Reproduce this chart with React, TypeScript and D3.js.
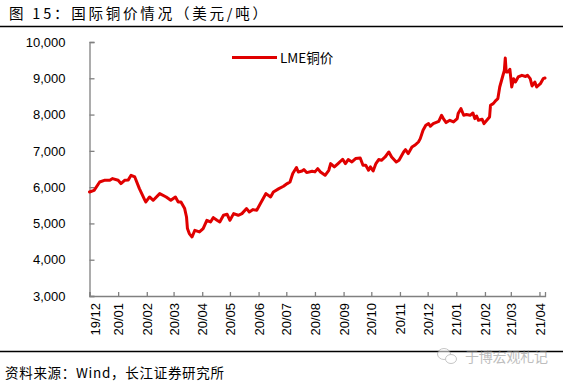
import React, { useEffect, useRef } from "react";
import * as d3 from "d3";

const title = "图 15：国际铜价情况（美元/吨）";
const source = "资料来源：Wind，长江证券研究所";
const watermark = "于博宏观札记";
const seriesName = "LME铜价";

const yTicks = [3000, 4000, 5000, 6000, 7000, 8000, 9000, 10000];
const xTickMonths = [
  "2019-12-01", "2020-01-01", "2020-02-01", "2020-03-01", "2020-04-01", "2020-05-01",
  "2020-06-01", "2020-07-01", "2020-08-01", "2020-09-01", "2020-10-01", "2020-11-01",
  "2020-12-01", "2021-01-01", "2021-02-01", "2021-03-01", "2021-04-01",
];
const xDomain = ["2019-12-01", "2021-04-07"];

const dates = [
  "2019-12-01", "2019-12-06", "2019-12-12", "2019-12-17", "2019-12-23", "2019-12-26",
  "2020-01-01", "2020-01-04", "2020-01-08", "2020-01-12", "2020-01-15", "2020-01-19",
  "2020-01-24", "2020-01-30", "2020-01-31", "2020-02-04", "2020-02-08", "2020-02-15",
  "2020-02-22", "2020-02-27", "2020-03-03", "2020-03-06", "2020-03-09", "2020-03-11",
  "2020-03-13", "2020-03-15", "2020-03-16", "2020-03-18", "2020-03-21", "2020-03-24",
  "2020-03-29", "2020-04-02", "2020-04-06", "2020-04-10", "2020-04-13", "2020-04-17",
  "2020-04-20", "2020-04-24", "2020-04-28", "2020-05-01", "2020-05-05", "2020-05-10",
  "2020-05-14", "2020-05-19", "2020-05-22", "2020-05-26", "2020-05-30", "2020-06-03",
  "2020-06-06", "2020-06-09", "2020-06-14", "2020-06-17", "2020-06-23", "2020-06-28",
  "2020-07-02", "2020-07-05", "2020-07-08", "2020-07-12", "2020-07-14", "2020-07-18",
  "2020-07-20", "2020-07-23", "2020-07-29", "2020-08-01", "2020-08-04", "2020-08-07",
  "2020-08-12", "2020-08-16", "2020-08-18", "2020-08-22", "2020-08-26", "2020-08-31",
  "2020-09-03", "2020-09-06", "2020-09-10", "2020-09-14", "2020-09-19", "2020-09-22",
  "2020-09-25", "2020-09-28", "2020-09-30", "2020-10-03", "2020-10-06", "2020-10-09",
  "2020-10-12", "2020-10-16", "2020-10-20", "2020-10-23", "2020-10-28", "2020-10-31",
  "2020-11-05", "2020-11-07", "2020-11-10", "2020-11-14", "2020-11-17", "2020-11-21",
  "2020-11-23", "2020-11-26", "2020-11-29", "2020-12-02", "2020-12-04", "2020-12-07",
  "2020-12-13", "2020-12-16", "2020-12-18", "2020-12-21", "2020-12-25", "2020-12-29",
  "2021-01-02", "2021-01-03", "2021-01-06", "2021-01-09", "2021-01-12", "2021-01-16",
  "2021-01-19", "2021-01-21", "2021-01-23", "2021-01-25", "2021-01-29", "2021-01-31",
  "2021-02-03", "2021-02-06", "2021-02-07", "2021-02-10", "2021-02-13", "2021-02-15",
  "2021-02-17", "2021-02-20", "2021-02-22", "2021-02-23", "2021-02-24", "2021-02-26",
  "2021-02-28", "2021-03-02", "2021-03-04", "2021-03-06", "2021-03-09", "2021-03-13",
  "2021-03-17", "2021-03-19", "2021-03-22", "2021-03-24", "2021-03-27", "2021-03-29",
  "2021-04-02", "2021-04-05", "2021-04-07",
];

const prices = [
  5867, 5913, 6142, 6189, 6189, 6236,
  6189, 6098, 6189, 6200, 6327, 6280,
  5960, 5638, 5591, 5729, 5638, 5822,
  5729, 5638, 5729, 5591, 5591, 5500,
  5409, 5178, 4858, 4720, 4627, 4811,
  4765, 4858, 5087, 5040, 5160, 5087,
  5040, 5225, 5252, 5087, 5270, 5225,
  5270, 5409, 5316, 5381, 5362, 5547,
  5685, 5822, 5729, 5867, 5960, 6024,
  6098, 6142, 6374, 6539, 6418, 6446,
  6484, 6401, 6437, 6420, 6511, 6418,
  6327, 6465, 6649, 6557, 6649, 6768,
  6649, 6760, 6694, 6787, 6803, 6603,
  6603, 6465, 6557, 6446, 6649, 6760,
  6741, 6831, 6969, 6831, 6694, 6741,
  6969, 7035, 6924, 7107, 7153, 7244,
  7337, 7567, 7705, 7751, 7677, 7751,
  7815, 7980, 7889, 7779, 7842, 7796,
  7889, 8027, 8164, 7980, 8000, 7980,
  8044, 7889, 7961, 7842, 7870, 7751,
  7842, 7933, 8256, 8302, 8393, 8440,
  8760, 9036, 9220, 9559, 9173, 9173,
  9248, 8760, 8990, 8898, 9036, 9082,
  9050, 9082, 8990, 8788, 8898, 8760,
  8852, 8990, 9008,
];

const W = 566;
const H = 382;
const M = { left: 89.5, right: 21, top: 42, bottom: 86 };
const FONT_NUM = "'Liberation Sans', Arial, sans-serif";
const FONT_CJK = "'Noto Sans CJK SC', 'Liberation Sans', sans-serif";

export default function App() {
  const ref = useRef<SVGSVGElement | null>(null);

  useEffect(() => {
    const svg = d3.select(ref.current);
    svg.selectAll("*").remove();

    const parse = d3.timeParse("%Y-%m-%d");
    const data = dates.map((d, i) => ({ date: parse(d) as Date, value: prices[i] }));

    const x = d3
      .scaleTime()
      .domain(xDomain.map((d) => parse(d) as Date))
      .range([M.left, W - M.right]);
    const y = d3.scaleLinear().domain([3000, 10000]).range([H - M.bottom, M.top]);

    // Title
    svg
      .append("text")
      .attr("x", 9)
      .attr("y", 19)
      .attr("font-family", FONT_CJK)
      .attr("font-size", 14.5)
      .attr("textLength", 258)
      .attr("lengthAdjust", "spacing")
      .attr("fill", "#000")
      .text(title);
    svg
      .append("line")
      .attr("x1", 0)
      .attr("x2", 563)
      .attr("y1", 26.5)
      .attr("y2", 26.5)
      .attr("stroke", "#000")
      .attr("stroke-width", 1.5);

    // Y axis
    const yAxis = d3
      .axisLeft(y)
      .tickValues(yTicks)
      .tickSize(-5)
      .tickPadding(24)
      .tickFormat((d) => d3.format(",")(d as number));
    const gy = svg.append("g").attr("transform", `translate(${M.left},0)`).call(yAxis);
    gy.select(".domain").attr("stroke", "#808080").attr("stroke-width", 1.3);
    gy.selectAll(".tick line").attr("stroke", "#808080").attr("stroke-width", 1.3);
    gy.selectAll(".tick text")
      .attr("font-family", FONT_NUM)
      .attr("font-size", 13)
      .attr("fill", "#000");

    // X axis
    const xAxis = d3
      .axisBottom(x)
      .tickValues(xTickMonths.map((d) => parse(d) as Date))
      .tickSize(-4)
      .tickFormat((d) => d3.timeFormat("%y/%m")(d as Date));
    const gx = svg
      .append("g")
      .attr("transform", `translate(0,${H - M.bottom})`)
      .call(xAxis);
    gx.select(".domain").attr("stroke", "#808080").attr("stroke-width", 1.3);
    gx.selectAll(".tick line").attr("stroke", "#808080").attr("stroke-width", 1.3);
    gx.selectAll(".tick text")
      .attr("font-family", FONT_NUM)
      .attr("font-size", 13)
      .attr("fill", "#000")
      .attr("text-anchor", "end")
      .attr("transform", (_d, i) => `translate(${i === 0 ? 5 : 0},0) rotate(-90)`)
      .attr("x", -7)
      .attr("y", 0)
      .attr("dy", "0.35em");

    // Line
    const line = d3
      .line<{ date: Date; value: number }>()
      .x((d) => x(d.date))
      .y((d) => y(d.value))
      .curve(d3.curveLinear);
    svg
      .append("path")
      .datum(data)
      .attr("d", line)
      .attr("fill", "none")
      .attr("stroke", "#e00000")
      .attr("stroke-width", 3)
      .attr("stroke-linejoin", "round")
      .attr("stroke-linecap", "round");

    // Legend
    const lg = svg.append("g");
    lg.append("line")
      .attr("x1", 232)
      .attr("x2", 277)
      .attr("y1", 57.5)
      .attr("y2", 57.5)
      .attr("stroke", "#e00000")
      .attr("stroke-width", 3);
    lg.append("text")
      .attr("x", 280)
      .attr("y", 62.5)
      .attr("font-family", FONT_CJK)
      .attr("font-size", 13.5)
      .attr("fill", "#000")
      .text(seriesName);

    // Bottom rule and source
    svg
      .append("line")
      .attr("x1", 0)
      .attr("x2", 563)
      .attr("y1", 351.5)
      .attr("y2", 351.5)
      .attr("stroke", "#000")
      .attr("stroke-width", 1.3);
    svg
      .append("text")
      .attr("x", 5)
      .attr("y", 378)
      .attr("font-family", FONT_CJK)
      .attr("font-size", 13.5)
      .attr("textLength", 219)
      .attr("lengthAdjust", "spacing")
      .attr("fill", "#000")
      .text(source);

    // Watermark
    const wm = svg.append("g").attr("opacity", 0.55);
    wm.append("ellipse")
      .attr("cx", 444)
      .attr("cy", 354)
      .attr("rx", 6.5)
      .attr("ry", 5.5)
      .attr("fill", "#fff")
      .attr("stroke", "#999")
      .attr("stroke-width", 1);
    wm.append("ellipse")
      .attr("cx", 451)
      .attr("cy", 359)
      .attr("rx", 5.5)
      .attr("ry", 4.5)
      .attr("fill", "#fff")
      .attr("stroke", "#999")
      .attr("stroke-width", 1);
    wm.append("text")
      .attr("x", 465)
      .attr("y", 362)
      .attr("font-family", FONT_CJK)
      .attr("font-size", 14)
      .attr("textLength", 83)
      .attr("lengthAdjust", "spacing")
      .attr("fill", "#888")
      .text(watermark);
  }, []);

  return (
    <svg
      ref={ref}
      width={W}
      height={H}
      style={{ position: "absolute", left: 0, top: 0, background: "#fff" }}
    />
  );
}
